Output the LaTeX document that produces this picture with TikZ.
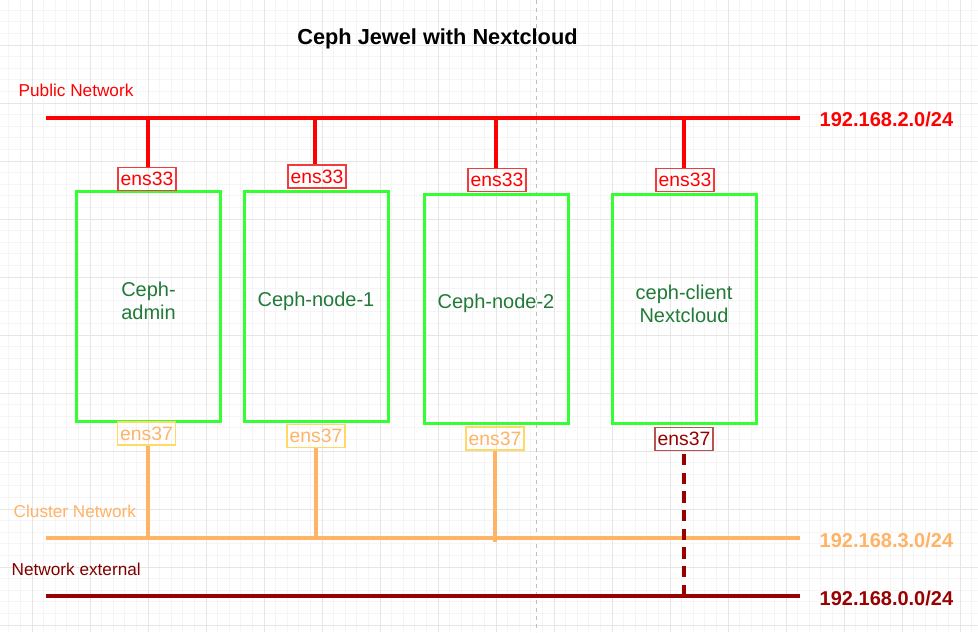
\documentclass[tikz,border=0pt]{standalone}
\usepackage{fontspec}
\setmainfont{Liberation Sans}
\usetikzlibrary{positioning,calc}
\definecolor{netred}{HTML}{FF0000}
\definecolor{ethred}{HTML}{F03C3C}
\definecolor{hostgreen}{HTML}{33FF33}
\definecolor{hosttext}{HTML}{217A38}
\definecolor{cluorange}{HTML}{FFB366}
\definecolor{ethyellow}{HTML}{FFD966}
\definecolor{extred}{HTML}{990000}
\definecolor{extlbl}{HTML}{800000}
\definecolor{ethdark}{HTML}{B85450}
\definecolor{gridmin}{HTML}{F5F5F5}
\definecolor{gridmaj}{HTML}{E6E6E6}

\tikzset{
  host/.style={draw=hostgreen, line width=2.25pt, minimum width=108pt, minimum height=172pt},
  hostlbl/.style={text=hosttext, align=center, font=\fontsize{15}{17.2}\selectfont},
  eth/.style={line width=1.1pt, inner sep=1pt, minimum width=43.5pt, minimum height=17.5pt, font=\fontsize{14.5}{16}\selectfont},
  netlbl/.style={anchor=west, font=\fontsize{12.9}{15}\selectfont},
  iplbl/.style={anchor=west, font=\fontsize{15}{18}\bfseries},
  bus/.style={line width=3pt}
}

\begin{document}
\begin{tikzpicture}[x=0.75pt,y=-0.75pt]
  \useasboundingbox (0,0) rectangle (978,632);
  \begin{scope}
    \clip (0,0) rectangle (978,632);
    \fill[white] (0,0) rectangle (978,632);
    \foreach \i in {0,...,86} {
      \draw[gridmin, line width=0.75pt] ({-26+11.6*\i},0) -- ({-26+11.6*\i},632);
      \draw[gridmin, line width=0.75pt] (0,{-13+11.6*\i}) -- (978,{-13+11.6*\i});
    }
    \foreach \i in {0,...,17} {
      \draw[gridmaj, line width=0.75pt] ({-26+58*\i},0) -- ({-26+58*\i},632);
      \draw[gridmaj, line width=0.75pt] (0,{-13+58*\i}) -- (978,{-13+58*\i});
    }
    \draw[black!25, line width=0.75pt, dash pattern=on 3pt off 3pt] (536,0) -- (536,632);
  \end{scope}

  \node[font=\fontsize{16.3}{19}\bfseries] (title) at (437.5,39) {Ceph Jewel with Nextcloud};

  % networks
  \node[netlbl, text=netred] (publbl) at (14,90) {Public Network};
  \coordinate (pubL) at (46,118);
  \coordinate (pubR) at (800,118);
  \draw[bus, netred] (pubL) -- (pubR);
  \node[iplbl, text=netred] (pubip) at (815,119) {192.168.2.0/24};

  \node[netlbl, text=cluorange] (clulbl) at (9,511) {Cluster Network};
  \coordinate (cluL) at (46,538);
  \coordinate (cluR) at (800,538);
  \draw[bus, cluorange] (cluL) -- (cluR);
  \node[iplbl, text=cluorange] (cluip) at (815,540) {192.168.3.0/24};

  \node[netlbl, text=extlbl] (extlbl) at (7,569) {Network external};
  \coordinate (extL) at (46,596);
  \coordinate (extR) at (800,596);
  \draw[bus, extred] (extL) -- (extR);
  \node[iplbl, text=extred] (extip) at (815,598) {192.168.0.0/24};

  % hosts
  \node[host] (admin) at (148.5,306.5) {};
  \node[host] (node1) at (316,306.5) {};
  \node[host] (node2) at (496,309) {};
  \node[host] (client) at (684,309) {};
  \node[hostlbl] at ([yshift=4pt]admin.center) {Ceph-\\admin};
  \node[hostlbl] at ([yshift=4pt]node1.center) {Ceph-node-1};
  \node[hostlbl] at ([yshift=4pt]node2.center) {Ceph-node-2};
  \node[hostlbl] at ([yshift=4pt]client.center) {ceph-client\\Nextcloud};

  % interfaces
  \node[eth, draw=ethred, text=netred] (pubA) at (147,179) {ens33};
  \node[eth, draw=ethred, text=netred] (pubB) at (317,176.5) {ens33};
  \node[eth, draw=ethred, text=netred] (pubC) at (497,180) {ens33};
  \node[eth, draw=ethred, text=netred] (pubD) at (685,180) {ens33};

  \node[eth, draw=ethyellow, text=cluorange] (cluA) at (146.5,433.5) {ens37};
  \node[eth, draw=ethyellow, text=cluorange] (cluB) at (316,436) {ens37};
  \node[eth, draw=ethyellow, text=cluorange] (cluC) at (495,438.5) {ens37};
  \node[eth, draw=ethdark, text=extred] (extD) at (684,439) {ens37};

  % links
  \draw[bus, netred] ([xshift=0.75pt]pubA.north) -- ([xshift=0.75pt]pubA.north |- pubL);
  \draw[bus, netred] ([xshift=-1.5pt]pubB.north) -- ([xshift=-1.5pt]pubB.north |- pubL);
  \draw[bus, netred] ([xshift=-1pt]pubC.north) -- ([xshift=-1pt]pubC.north |- pubL);
  \draw[bus, netred] ([xshift=-0.75pt]pubD.north) -- ([xshift=-0.75pt]pubD.north |- pubL);

  \draw[bus, cluorange] ([xshift=1pt]cluA.south) -- ([xshift=1pt]cluA.south |- cluL);
  \draw[bus, cluorange] (cluB.south) -- (cluB.south |- cluL);
  \draw[bus, cluorange] (cluC.south) -- ([yshift=-3pt]cluC.south |- cluL);
  \draw[bus, extred, dash pattern=on 8.5pt off 5.5pt] ([yshift=-2pt]extD.south) -- (extD.south |- extL);
\end{tikzpicture}
\end{document}
